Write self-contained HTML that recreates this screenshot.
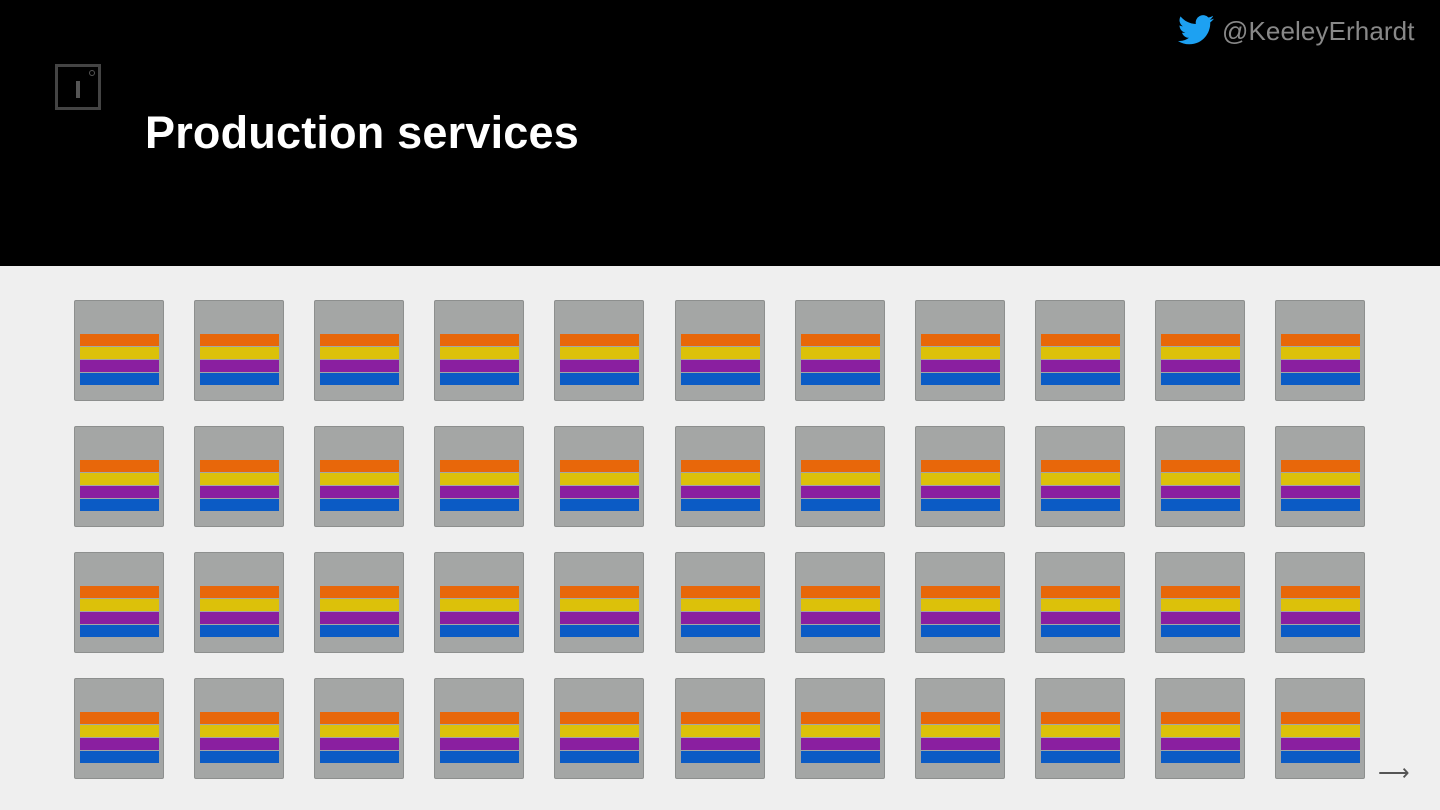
<!DOCTYPE html>
<html><head><style>
body{margin:0;width:1440px;height:810px;overflow:hidden;background:#efefef;font-family:"Liberation Sans",sans-serif;position:relative}
.top{position:absolute;left:0;top:0;width:1440px;height:266px;background:#000}
.logo{position:absolute;left:55px;top:64px;width:40px;height:40px;border:3px solid #444}
.bar{position:absolute;left:18px;top:14px;width:4px;height:17px;background:#555}
.dot{position:absolute;left:31px;top:3px;width:4px;height:4px;border:1px solid #555;border-radius:50%}
h1{position:absolute;left:145px;top:107px;margin:0;color:#fff;font-size:45px;font-weight:bold;letter-spacing:0.2px}
.tw{position:absolute;left:1222px;top:16px;color:#888;font-size:26px;letter-spacing:0.1px}
.box{position:absolute;width:88px;height:99px;background:#a4a6a5;border:1px solid #8d8f8e;border-radius:2px}
.s{position:absolute;left:5px;width:79px;height:12px}
.arrow{position:absolute;left:1378px;top:760px;color:#555;font-size:22px}
</style></head><body>
<div class="top"></div>
<div class="logo"><div class="bar"></div><div class="dot"></div></div>
<h1>Production services</h1>
<svg style="position:absolute;left:1178px;top:15px" width="36" height="30" viewBox="0 0 24 20"><path fill="#1da1f2" d="M24 2.4c-.9.4-1.8.7-2.8.8 1-.6 1.8-1.6 2.2-2.7-1 .6-2 1-3.1 1.2A4.9 4.9 0 0 0 11.9 6C7.7 5.8 4.1 3.9 1.7.9a4.9 4.9 0 0 0 1.5 6.6c-.8 0-1.6-.3-2.2-.6 0 2.4 1.7 4.4 3.9 4.8-.7.2-1.5.2-2.2.1.6 2 2.4 3.4 4.6 3.4A9.9 9.9 0 0 1 0 17.3 14 14 0 0 0 7.5 19.5c9.1 0 14-7.5 14-14v-.6c1-.7 1.8-1.6 2.5-2.5z"/></svg>
<div class="tw">@KeeleyErhardt</div>
<div id="g"></div>
<div class="arrow">⟶</div>
<script>
var h='';
for(var r=0;r<4;r++)for(var c=0;c<11;c++){
var x=Math.round(74+c*120.1),y=300+r*126;
h+='<div class="box" style="left:'+x+'px;top:'+y+'px">'+
'<div class="s" style="top:33px;background:#e8670a"></div>'+
'<div class="s" style="top:46px;background:#dcc10a"></div>'+
'<div class="s" style="top:59px;background:#8a1fa0"></div>'+
'<div class="s" style="top:72px;background:#0b5bc5"></div></div>';}
document.getElementById('g').innerHTML=h;
</script>
</body></html>
